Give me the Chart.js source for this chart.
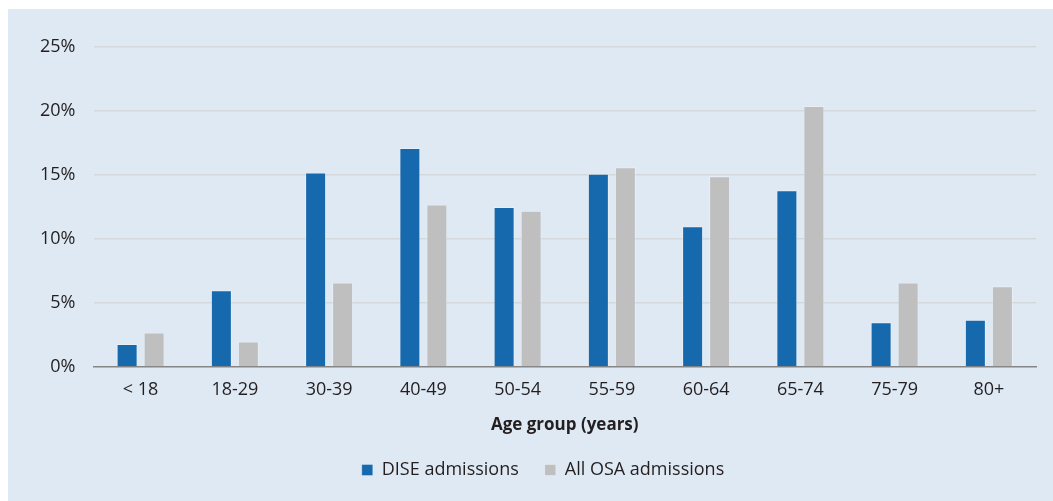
<!DOCTYPE html>
<html>
<head>
<meta charset="utf-8">
<script src="https://cdn.jsdelivr.net/npm/chart.js@4"></script>
<style>
  html, body { margin: 0; padding: 0; background: #ffffff; }
  #wrap { position: absolute; left: 8px; top: 9px; width: 1045px; height: 492px; background: #DFE9F4; }
  canvas { display: block; }
</style>
</head>
<body>
<div id="wrap"><canvas id="c" width="1045" height="492"></canvas></div>
<script>
const categories = ['< 18', '18-29', '30-39', '40-49', '50-54', '55-59', '60-64', '65-74', '75-79', '80+'];
const diseAdmissions = [1.8, 6.0, 15.2, 17.1, 12.5, 15.1, 11.0, 13.8, 3.5, 3.7];
const allOsaAdmissions = [2.7, 2.0, 6.6, 12.7, 12.2, 15.6, 14.9, 20.4, 6.6, 6.3];
const seriesNames = ['DISE admissions', 'All OSA admissions'];
const yTicks = [0, 5, 10, 15, 20, 25];

const FONT = '"Open Sans", "Noto Sans", sans-serif';
const TEXT = '#231F20';

const legendShift = {
  id: 'legendShift',
  afterLayout(chart) {
    const l = chart.legend;
    if (l) { l.left += 21; l.right += 21; }
  }
};

new Chart(document.getElementById('c'), {
  type: 'bar',
  data: {
    labels: categories,
    datasets: [
      { label: seriesNames[0], data: diseAdmissions, backgroundColor: '#1769AD', borderColor: 'rgba(255,255,255,0.3)', borderWidth: 1 },
      { label: seriesNames[1], data: allOsaAdmissions, backgroundColor: '#BFBFBF', borderColor: 'rgba(255,255,255,0.3)', borderWidth: 1 }
    ]
  },
  plugins: [legendShift],
  options: {
    responsive: false,
    animation: false,
    devicePixelRatio: 1,
    datasets: { bar: { categoryPercentage: 0.573, barPercentage: 0.778 } },
    layout: { padding: { left: 0, right: 17, top: 38, bottom: 12 } },
    plugins: {
      tooltip: { enabled: false },
      legend: {
        position: 'bottom',
        labels: { boxWidth: 11, boxHeight: 11, padding: 26, color: TEXT, font: { family: FONT, size: 18 } }
      }
    },
    scales: {
      x: {
        grid: { display: false, drawTicks: false },
        border: { display: true, color: '#858585', width: 1.5 },
        ticks: { color: TEXT, font: { family: FONT, size: 18 }, padding: 12, maxRotation: 0 },
        title: { display: true, text: 'Age group (years)', color: TEXT, font: { family: FONT, size: 17, weight: 'bold' }, padding: { top: 2, bottom: 0 } }
      },
      y: {
        min: 0, max: 25,
        afterBuildTicks: (s) => { s.ticks = yTicks.map(v => ({ value: v })); },
        afterFit: (s) => { s.width = 85.5; },
        grid: { color: (ctx) => ctx.tick && ctx.tick.value === 0 ? 'rgba(0,0,0,0)' : '#D5D8DB', lineWidth: 1.5, drawTicks: false },
        border: { display: false },
        ticks: { color: TEXT, font: { family: FONT, size: 18 }, padding: 18, callback: (v) => v + '%' }
      }
    }
  }
});
</script>
</body>
</html>
